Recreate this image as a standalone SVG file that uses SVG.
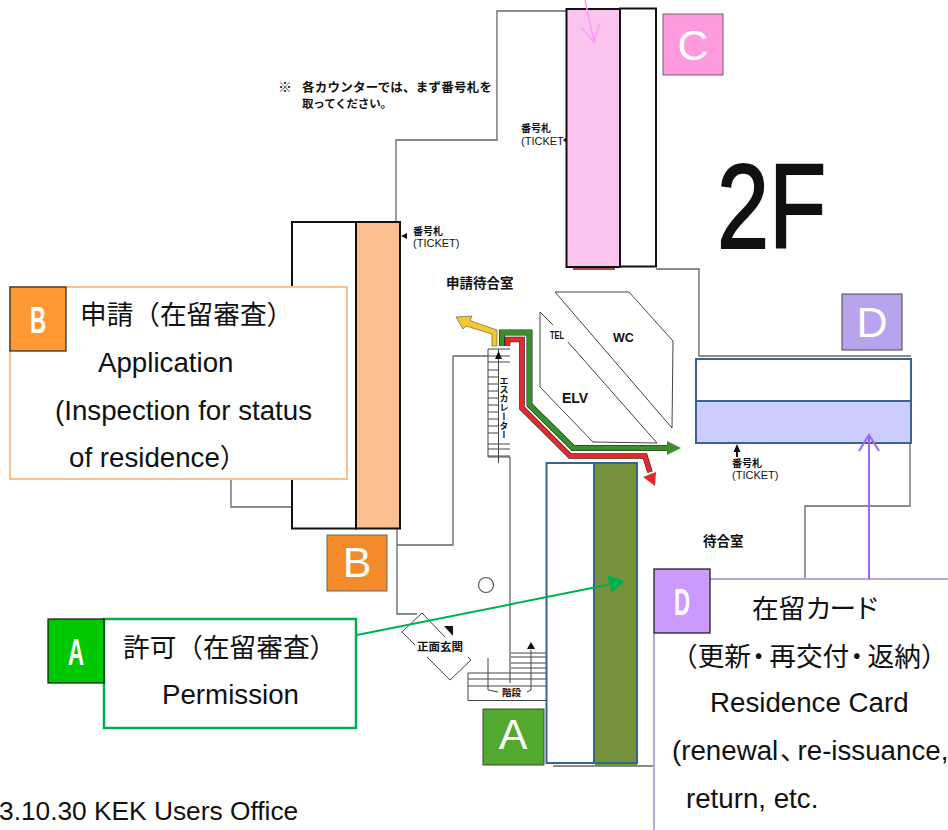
<svg xmlns="http://www.w3.org/2000/svg" width="948" height="830" viewBox="0 0 948 830">
<style>
text{font-family:"Liberation Sans","Noto Sans CJK JP",sans-serif;fill:#111}
.j{font-family:"Noto Sans CJK JP",sans-serif}
.pa{font-family:"Noto Sans CJK JP",sans-serif;font-feature-settings:"palt"}
.big{font-size:27.700px}
.cj{font-size:26.670px;font-family:"Noto Sans CJK JP",sans-serif}
.b{font-weight:700}
.s{font-size:11px}
.wall{fill:none;stroke:#666;stroke-width:1.300}
.thin{fill:none;stroke:#444;stroke-width:1}
.blk{stroke:#111;stroke-width:2}
.blu{stroke:#3a6391;stroke-width:2}
.lt{fill:#fff;text-anchor:middle;font-size:43px}
.nl{fill:#fff;text-anchor:middle;font-size:36px;font-weight:700}
</style>
<rect width="948" height="830" fill="#fff"/>

<g id="floorplan">
<path class="wall" d="M566 11H497V140H396V222M656 269H699V356H911M910 443V506H805V579M231 479V507H292M397 545H453V356H488M510 457V683M397 529V614H417M553 766H654"/>
<path class="thin" d="M555 292H629L673 341L672 428ZM553 325L540 312V387L593 442L657 443L568 342"/>
<text transform="translate(550 339) scale(.68 1)" class="b" font-size="11">TEL</text>
<text x="613" y="342" class="b" font-size="12.500">WC</text>
<text x="562" y="403" class="b" font-size="14">ELV</text>
<text x="446" y="288" class="b" font-size="13.500">申請待合室</text>
<text x="703" y="546" class="b" font-size="13.500">待合室</text>
<text x="278" y="92" class="b" font-size="14">※</text>
<text x="302" y="92" class="b" font-size="12.500" textLength="190">各カウンターでは、まず番号札を</text>
<text x="302" y="108" class="b" font-size="11.500" textLength="90">取ってください。</text>
<text x="521" y="132" class="j b" font-size="10">番号札</text>
<text x="521" y="145" class="s">(TICKET</text>
<text x="413" y="235" class="j b" font-size="10">番号札</text>
<text x="413" y="247" class="s">(TICKET)</text>
<text x="732" y="467" class="j b" font-size="10">番号札</text>
<text x="732" y="479" class="s">(TICKET)</text>
<path d="M563 140l4-3v6zM401 236l6-3v6zM737 444l-3.500 8h2.500v5h2v-5h2.500z" fill="#111"/>
<path class="thin" d="M488 349H510M488 349V457H510M488 356H510M488 362H510M488 370H498M488 377H498M488 384H498M488 391H498M488 398H498M488 405H498M488 412H498M488 419H498M488 426H498M488 433H498M488 444H510M488 449H510M488 456H510M498.500 349V463"/>
<path d="M498.500 351l-3.500 8h7z" fill="#111"/>
<text x="504" y="376" font-size="9" class="j b" style="writing-mode:vertical-rl">エスカレーター</text>
<circle cx="486" cy="585" r="7.500" fill="none" stroke="#555" stroke-width="1.200"/>
<path class="thin" d="M445 637L422 613L402 632L415 645M427 657L450 680L471 660L468 657"/>
<path d="M444 626H453V636Z" fill="#111"/>
<text x="417" y="651" class="b" font-size="11.500">正面玄関</text>
<path class="thin" d="M511 653H546M511 657H546M511 663H546M511 668H546M468 673H546M468 679H546M468 686H546M468 673V700.500H546M488 658V690L498 692M527 692L531 690V650"/>
<path d="M531 642l-4 7h8z" fill="#111"/>
<text x="502" y="696" class="b" font-size="9.500">階段</text>
<text transform="translate(717 248) scale(.78 1)" font-size="120" style="stroke:#111;stroke-width:2">2F</text>
</g>

<g id="route-arrows">
<path d="M456 317L472 316L470 320.500L497 330V346H492V334L466 326L463 329Z" fill="#f5c92d" stroke="#333" stroke-width=".5"/>
<path d="M502 346V332.500H529.500V405L573 448H667" fill="none" stroke="#222" stroke-width="6"/>
<path d="M502 346V332.500H529.500V405L573 448H668" fill="none" stroke="#3b8f2b" stroke-width="4.800"/>
<path d="M667 441L681 448L667 455Z" fill="#3b8f2b"/>
<path d="M507.500 346V339.500H522V408L570 456H645L650 472" fill="none" stroke="#222" stroke-width="5.600"/>
<path d="M507.500 346V339.500H522V408L570 456H645L650 472" fill="none" stroke="#e8282c" stroke-width="4.400"/>
<path d="M643 477L656 472L655 486Z" fill="#e8282c"/>
</g>

<g id="counter-c">
<rect x="620" y="8.500" width="36" height="258" fill="#fff" class="blk"/>
<rect x="573" y="266" width="42" height="4" fill="#a0522d"/>
<rect x="566.500" y="9" width="53.500" height="258" fill="#fbc4ee" class="blk"/>
<rect x="663" y="14" width="60" height="61" fill="#ff99e0" stroke="#666"/>
<text x="693" y="60" class="lt">C</text>
</g>

<g id="counter-b">
<rect x="292" y="222" width="64" height="306.500" fill="#fff" class="blk"/>
<rect x="356" y="222" width="44" height="306.500" fill="#fac090" class="blk"/>
<rect x="327" y="535" width="60" height="56" fill="#f58a2a" stroke="#666"/>
<text x="357" y="577" class="lt">B</text>
</g>

<g id="counter-d">
<rect x="696" y="359" width="215" height="42" fill="#fff" class="blu"/>
<rect x="696" y="401" width="215" height="42" fill="#ccccff" class="blu"/>
<rect x="842" y="294" width="60" height="56" fill="#b9a3ec" stroke="#444"/>
<text x="872" y="337" class="lt">D</text>
</g>

<g id="counter-a">
<rect x="595" y="763" width="42" height="3" fill="#5aa02c"/>
<rect x="546.500" y="463" width="47.500" height="300" fill="#fff" class="blu"/>
<rect x="594" y="463" width="43" height="300" fill="#76923c" class="blu"/>
<rect x="483" y="709" width="61" height="56" fill="#53a82f" stroke="#444"/>
<text x="513" y="749" class="lt">A</text>
</g>

<g id="callout-b">
<rect x="10" y="287" width="337" height="192" fill="#fff" stroke="#fac090" stroke-width="2"/>
<rect x="10" y="287" width="56" height="64" fill="#ff9933" stroke="#222" stroke-width="1.200"/>
<text class="nl" transform="translate(38 333) scale(.62 1)">B</text>
<text x="80" y="324" class="cj">申請（在留審査）</text>
<text x="98" y="372" class="big">Application</text>
<text x="55" y="420" class="big">(Inspection for status</text>
<text x="69" y="467" class="big">of residence<tspan class="j" font-size="26.670">）</tspan></text>
</g>

<g id="callout-a">
<rect x="104" y="619" width="252" height="109" fill="#fff" stroke="#00b050" stroke-width="2.500"/>
<rect x="48" y="619" width="56" height="64" fill="#00c800" stroke="#111" stroke-width="1.200"/>
<text class="nl" transform="translate(76 665) scale(.62 1)">A</text>
<text x="123" y="657" class="cj">許可（在留審査）</text>
<text x="162" y="704" class="big">Permission</text>
</g>

<g id="callout-d">
<path d="M654 579H948V830H654Z" fill="#fff"/>
<path d="M710 579H948M654 633V830" fill="none" stroke="#b9a7dc" stroke-width="2"/>
<rect x="654" y="569" width="56" height="64" fill="#cc99ff" stroke="#111" stroke-width="1.200"/>
<text class="nl" transform="translate(682 615) scale(.62 1)">D</text>
<text x="752" y="618" class="cj">在留<tspan style="letter-spacing:-2.500px">カード</tspan></text>
<text x="671" y="666" class="cj">（更新<tspan class="pa" dx="1">・</tspan><tspan dx="4">再交付</tspan><tspan class="pa" dx="1">・</tspan><tspan dx="4">返納）</tspan></text>
<text x="710" y="712" class="big">Residence Card</text>
<text x="672" y="760" class="big">(renewal<tspan class="pa" font-size="26.670" dx="2">、</tspan><tspan dx="4">re-issuance,</tspan></text>
<text x="686" y="808" class="big">return, etc.</text>
</g>

<g id="connectors" fill="none">
<path d="M357 635L612 584" stroke="#00b050" stroke-width="2"/>
<path d="M624 581L608 576L612 592Z" fill="#00b050" stroke="#00b050"/>
<path d="M869 579V436M859 451L869 435L879 451" stroke="#9966ff" stroke-width="2"/>
<path d="M585 0L594 42M581 27L594 42L600 23" stroke="#ff99ff" stroke-width="1.500"/>
</g>

<text id="footer" x="-1" y="820" font-size="26.300">3.10.30 KEK Users Office</text>
</svg>
